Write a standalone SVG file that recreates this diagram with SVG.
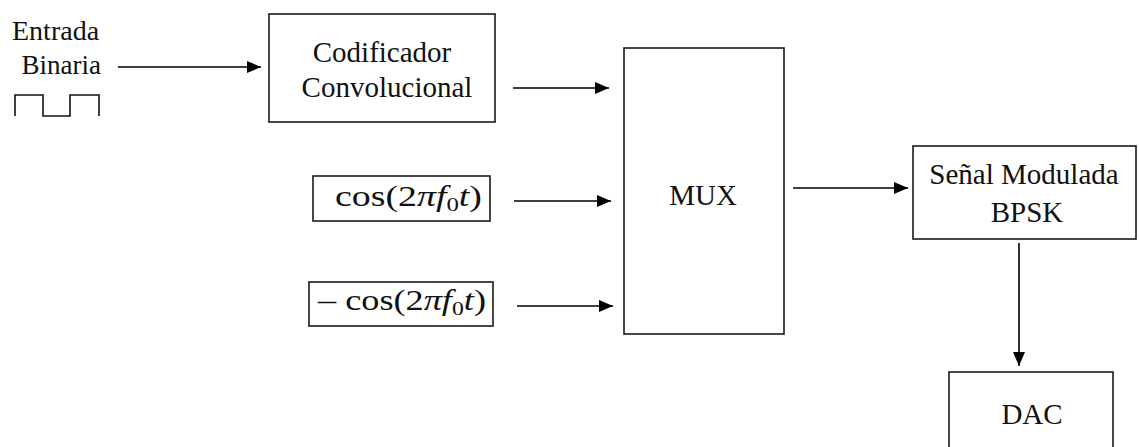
<svg xmlns="http://www.w3.org/2000/svg" width="1139" height="447" viewBox="0 0 1139 447">
<defs>
<marker id="ah" viewBox="0 0 14 12" refX="14" refY="6" markerWidth="14" markerHeight="12" markerUnits="userSpaceOnUse" orient="auto">
<path d="M0,0 L14,6 L0,12 z" fill="#000"/>
</marker>
<style>
.box{fill:#fff;stroke:#1a1a1a;stroke-width:1.6}
.t{font-family:'Liberation Serif','Times New Roman',Tinos,'DejaVu Serif',serif;font-size:29px;fill:#111}
.m{font-family:'Liberation Serif','DejaVu Serif',serif;font-size:29px;fill:#111}
.i{font-style:italic}
.c{stroke:#000;stroke-width:1.6;fill:none;marker-end:url(#ah)}
</style>
</defs>
<rect width="1139" height="447" fill="#fff"/>
<g id="input">
<text class="t" x="12" y="40" style="font-size:28px">Entrada</text>
<text class="t" x="101" y="74" text-anchor="end" style="font-size:27px">Binaria</text>
<path d="M15,116 V95 H43 V116 H70 V95 H99 V116" fill="none" stroke="#111" stroke-width="1.6"/>
</g>
<g id="codificador">
<rect class="box" x="269" y="14" width="226" height="108"/>
<text class="t" x="382" y="62" text-anchor="middle">Codificador</text>
<text class="t" x="387" y="97" text-anchor="middle">Convolucional</text>
</g>
<g id="cos">
<rect class="box" x="313" y="176" width="177" height="45"/>
<text class="m" x="335" y="206" textLength="147" lengthAdjust="spacingAndGlyphs">cos(2<tspan class="i">πf</tspan><tspan style="font-size:19px" dy="5">0</tspan><tspan class="i" dy="-5">t</tspan>)</text>
</g>
<g id="negcos">
<rect class="box" x="309" y="282" width="184" height="44"/>
<text class="m" x="318" y="310" textLength="168" lengthAdjust="spacingAndGlyphs">– cos(2<tspan class="i">πf</tspan><tspan style="font-size:19px" dy="5">0</tspan><tspan class="i" dy="-5">t</tspan>)</text>
</g>
<g id="mux">
<rect class="box" x="624" y="48" width="160" height="286"/>
<text class="t" x="703" y="205" text-anchor="middle">MUX</text>
</g>
<g id="senal">
<rect class="box" x="913" y="146" width="223" height="93"/>
<text class="t" x="1024" y="184" text-anchor="middle">Señal Modulada</text>
<text class="t" x="1027" y="222" text-anchor="middle">BPSK</text>
</g>
<g id="dac">
<rect class="box" x="949" y="372" width="164" height="90"/>
<text class="t" x="1032" y="424" text-anchor="middle">DAC</text>
</g>
<g id="connectors">
<line class="c" x1="118" y1="67" x2="261" y2="67"/>
<line class="c" x1="513" y1="88" x2="609" y2="88"/>
<line class="c" x1="514" y1="201" x2="611" y2="201"/>
<line class="c" x1="517" y1="306" x2="613" y2="306"/>
<line class="c" x1="793" y1="188" x2="908" y2="188"/>
<line class="c" x1="1019" y1="243" x2="1019" y2="366"/>
</g>
</svg>
